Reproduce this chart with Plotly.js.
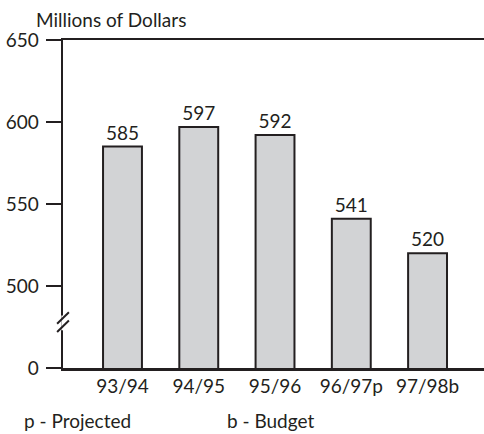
<!DOCTYPE html>
<html><head><meta charset="utf-8">
<script src="https://cdn.plot.ly/plotly-3.0.1.min.js"></script>
<style>body{margin:0;background:#fff}#c{width:484px;height:434px}</style>
</head><body><div id="c"></div>
<script>
const categories = ["93/94","94/95","95/96","96/97p","97/98b"];
const values = [585, 597, 592, 541, 520];
const tickVals = [450, 500, 550, 600, 650];
const tickText = ["0", "500", "550", "600", "650"];

const font = "Lato, 'Open Sans', sans-serif";
const ink = "#231f20";
const fs = 19;

const trace = {
  type: "bar", x: categories, y: values,
  text: values.map(String), textposition: "outside", cliponaxis: false,
  textfont: {family: font, size: fs, color: ink},
  marker: {color: "#d2d3d5", line: {color: ink, width: 2}},
  width: 0.51, hoverinfo: "none"
};

const layout = {
  width: 484, height: 434,
  margin: {l: 63, r: 0, t: 40, b: 66},
  paper_bgcolor: "#fff", plot_bgcolor: "#fff",
  showlegend: false,
  font: {family: font, color: ink},
  xaxis: {
    type: "category", range: [-0.78, 4.74],
    showline: true, linecolor: ink, linewidth: 2.5, mirror: true,
    ticks: "", showgrid: false, zeroline: false,
    tickfont: {family: font, size: fs, color: ink}
  },
  yaxis: {
    range: [450, 650], tickmode: "array", tickvals: tickVals, ticktext: tickText,
    showline: true, linecolor: ink, linewidth: 2.5,
    ticks: "outside", ticklen: 15, tickwidth: 2, tickcolor: ink,
    ticklabelstandoff: 3,
    showgrid: false, zeroline: false,
    tickfont: {family: font, size: fs, color: ink}
  },
  shapes: [
    {type: "rect", xref: "paper", yref: "paper", x0: -0.004, x1: 0.004, y0: 0.115, y1: 0.16,
     fillcolor: "#fff", line: {width: 0}},
    {type: "line", xref: "paper", yref: "paper", x0: -0.014, x1: 0.014, y0: 0.11, y1: 0.145,
     line: {color: ink, width: 2}},
    {type: "line", xref: "paper", yref: "paper", x0: -0.014, x1: 0.014, y0: 0.135, y1: 0.17,
     line: {color: ink, width: 2}}
  ],
  annotations: [
    {text: "Millions of Dollars", xref: "paper", yref: "paper", x: -0.069, y: 1.061,
     xanchor: "left", yanchor: "middle", showarrow: false,
     font: {family: font, size: fs, color: ink}},
    {text: "p - Projected", xref: "paper", yref: "paper", x: -0.098, y: -0.159,
     xanchor: "left", yanchor: "middle", showarrow: false,
     font: {family: font, size: fs, color: ink}},
    {text: "b - Budget", xref: "paper", yref: "paper", x: 0.385, y: -0.159,
     xanchor: "left", yanchor: "middle", showarrow: false,
     font: {family: font, size: fs, color: ink}}
  ]
};

Plotly.newPlot("c", [trace], layout, {displayModeBar: false, staticPlot: true});
</script></body></html>
